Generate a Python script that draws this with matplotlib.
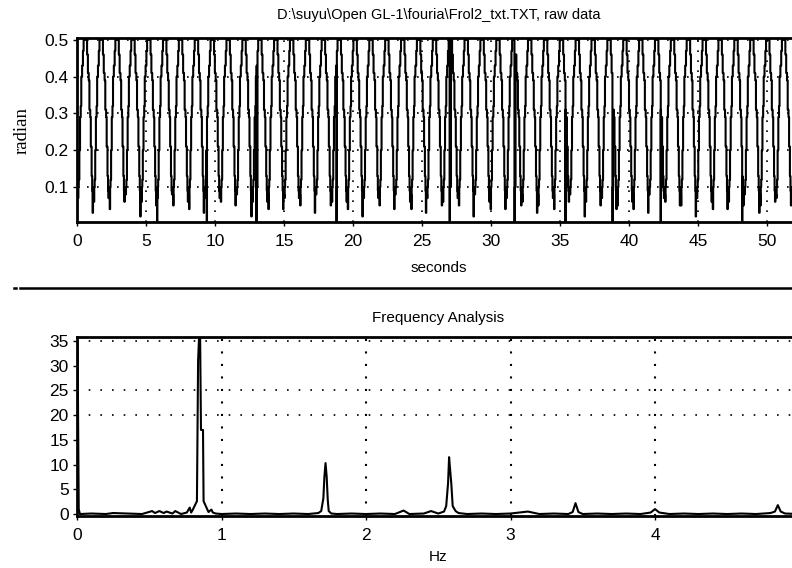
import matplotlib.pyplot as plt
import numpy as np
from matplotlib.lines import Line2D

plt.rcParams['font.family'] = ['Liberation Sans', 'DejaVu Sans']

# ---- raw data: one swing of the rotor, sampled by eye (s, radian) ----
period = 1.15
first_start = -0.5
cycle_t = [0.00, 0.08, 0.14, 0.20, 0.25, 0.31, 0.35, 0.41, 0.45, 0.48, 0.51,
           0.54, 0.57, 0.60, 0.63, 0.67, 0.72, 0.77, 0.81, 0.87, 0.93, 0.98]
cycle_v = [0.51, 0.46, 0.41, 0.39, 0.31, 0.29, 0.21, 0.13, 0.09, None, 0.10,
           0.08, None, 0.10, 0.12, 0.20, 0.29, 0.32, 0.40, 0.43, 0.47, 0.51]
# deepest spikes in each valley, left to right
dip_a = [0.05, 0.03, 0.07, 0.06, 0.02, 0.05, 0.08, 0.06, 0.03, 0.07,
         0.05, 0.02, 0.06, 0.04, 0.07, 0.03, 0.05, 0.06, 0.02, 0.07,
         0.04, 0.06, 0.03, 0.05, 0.07, 0.02, 0.06, 0.04, 0.05, 0.03,
         0.07, 0.06, 0.02, 0.05, 0.04, 0.06, 0.03, 0.07, 0.05, 0.02,
         0.06, 0.04, 0.05, 0.03, 0.06, 0.05, 0.04]
dip_b = [0.07, 0.06, 0.04, 0.08, 0.06, 0.07, 0.05, 0.04, 0.07, 0.06,
         0.08, 0.06, 0.04, 0.07, 0.05, 0.08, 0.06, 0.04, 0.07, 0.05,
         0.08, 0.04, 0.07, 0.06, 0.05, 0.08, 0.04, 0.07, 0.06, 0.05,
         0.04, 0.08, 0.06, 0.07, 0.05, 0.04, 0.08, 0.06, 0.05, 0.07,
         0.04, 0.06, 0.08, 0.05, 0.07, 0.06, 0.05]
# samples where the sensor dropped out to zero
dropout_t = [5.8, 9.4, 13.0, 18.8, 27.0, 31.7, 35.4, 38.8, 42.3, 48.2]

# ---- spectrum (Hz, amplitude) ----
freq = [0.000, 0.004, 0.012, 0.020, 0.10, 0.20, 0.25, 0.35, 0.45, 0.52, 0.54,
        0.57, 0.60, 0.62, 0.66, 0.68, 0.72, 0.76, 0.78, 0.79, 0.80, 0.83,
        0.838, 0.845, 0.852, 0.858, 0.872, 0.876, 0.91, 0.93, 0.94, 0.96,
        1.00, 1.10, 1.20, 1.30, 1.40, 1.50, 1.60, 1.67, 1.69, 1.705, 1.712,
        1.720, 1.728, 1.735, 1.742, 1.76, 1.80, 1.90, 2.00, 2.10, 2.20, 2.26,
        2.30, 2.40, 2.45, 2.50, 2.54, 2.555, 2.568, 2.575, 2.582, 2.590,
        2.600, 2.62, 2.64, 2.70, 2.80, 2.90, 3.00, 3.12, 3.20, 3.30, 3.40,
        3.43, 3.45, 3.47, 3.50, 3.60, 3.70, 3.80, 3.90, 3.97, 4.00, 4.03,
        4.10, 4.20, 4.30, 4.40, 4.50, 4.60, 4.70, 4.80, 4.83, 4.85, 4.87,
        4.90, 5.00]
amp = [34.5, 34.5, 1.0, 0.0, 0.1, 0.0, 0.2, 0.1, 0.0, 0.6, 0.2,
       0.6, 0.2, 0.5, 0.1, 0.6, 0.0, 0.3, 1.3, 0.3, 0.8, 2.6,
       31.0, 36.0, 36.0, 17.0, 17.0, 2.6, 0.4, 0.9, 0.3, 0.1,
       0.0, 0.1, 0.0, 0.1, 0.0, 0.1, 0.0, 0.2, 0.6, 3.2, 7.5,
       10.3, 7.5, 3.0, 0.6, 0.1, 0.0, 0.1, 0.0, 0.1, 0.0, 0.7,
       0.0, 0.1, 0.6, 0.1, 0.5, 1.6, 6.3, 11.5, 9.0, 6.3,
       1.6, 0.6, 0.2, 0.0, 0.1, 0.0, 0.1, 0.5, 0.0, 0.1, 0.0,
       0.4, 2.2, 0.4, 0.0, 0.1, 0.0, 0.1, 0.0, 0.3, 1.0, 0.3,
       0.0, 0.1, 0.0, 0.1, 0.0, 0.1, 0.0, 0.2, 0.5, 1.8, 0.5,
       0.1, 0.0]

# build the time trace swing by swing
t_all, v_all = [], []
for k in range(len(dip_a)):
    t0 = first_start + k * period
    dips = iter([dip_a[k], dip_b[k]])
    for dt, v in zip(cycle_t, cycle_v):
        if v is None:
            v = next(dips)
        t_all.append(t0 + dt)
        v_all.append(v)
# dropouts: one zero sample each
for d in dropout_t:
    t_all.append(d)
    v_all.append(0.0)
    t_all.append(d + 0.02)
    v_all.append(0.1)
order = np.argsort(t_all)
t_all = np.array(t_all)[order]
v_all = np.clip(np.array(v_all)[order], 0.0, 0.5)

fig = plt.figure(figsize=(7.92, 5.68), dpi=100)
W, H = 792.0, 568.0

# ---- top: raw data ----
ax1 = fig.add_axes([77 / W, 1 - 222 / H, (800 - 77) / W, 184 / H])
ax1.plot(t_all, v_all, color="black", lw=1.5, drawstyle="steps-post")
ax1.set_xlim(0, (800 - 77) / 13.8)
ax1.set_ylim(0.005, 0.505)
ax1.set_xticks(np.arange(0, 55, 5))
ax1.set_yticks([0.1, 0.2, 0.3, 0.4, 0.5])
ax1.grid(True, color="black", linestyle=(0, (1, 5)), lw=1.2)
ax1.set_title(r"D:\suyu\Open GL-1\fouria\Frol2_txt.TXT, raw data", fontsize=10.5, pad=14)
ax1.set_xlabel("seconds", fontsize=11, labelpad=8)
ax1.set_ylabel("radian", fontsize=13.5, family=["Liberation Serif", "DejaVu Serif"], labelpad=10)

# ---- bottom: frequency analysis ----
ax2 = fig.add_axes([77 / W, 1 - 516 / H, (800 - 77) / W, 179 / H])
ax2.plot(freq, amp, color="black", lw=1.5)
ax2.set_xlim(0, (800 - 77) / 144.5)
ax2.set_ylim(-0.4, 35.8)
ax2.set_xticks([0, 1, 2, 3, 4])
ax2.set_yticks(np.arange(0, 40, 5))
for y in [20, 25, 35]:
    ax2.axhline(y, color="black", linestyle=(0, (1, 6)), lw=1.2)
for x in [1, 2, 3, 4]:
    ax2.axvline(x, color="black", linestyle=(0, (1, 5)), lw=1.5)
ax2.set_title("Frequency Analysis", fontsize=11, pad=11)
ax2.set_xlabel("Hz", fontsize=11, labelpad=5)

for ax in (ax1, ax2):
    for s in ax.spines.values():
        s.set_linewidth(2.0)
    ax.tick_params(direction="out", length=3, width=1, labelsize=12.5, pad=3)
    ax.tick_params(axis="x", pad=6)

# separator between the two panels
fig.add_artist(Line2D([20 / W, 1.0], [1 - 288 / H] * 2, color="black", lw=1.8))
fig.add_artist(Line2D([14 / W, 16 / W], [1 - 288 / H] * 2, color="black", lw=1.8))

fig.savefig("out.png", dpi=100)
